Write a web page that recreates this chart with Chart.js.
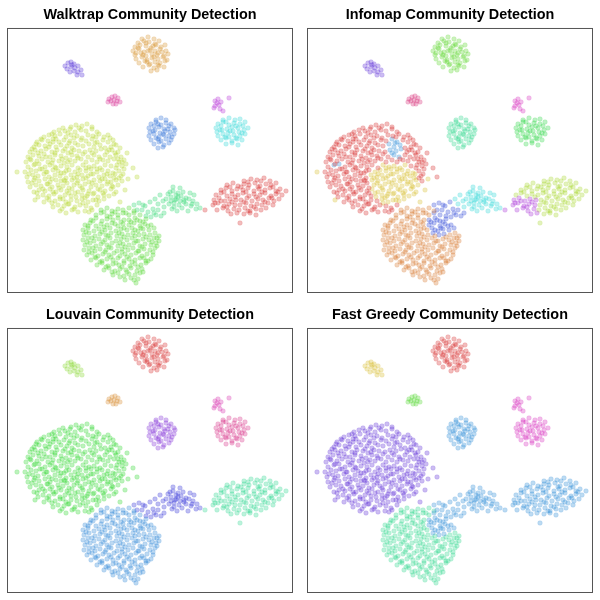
<!DOCTYPE html>
<html>
<head>
<meta charset="utf-8">
<script src="https://cdn.jsdelivr.net/npm/chart.js@4.4.1/dist/chart.umd.min.js"></script>
<style>
html,body{margin:0;padding:0;background:#fff;}
#wrap{position:relative;width:600px;height:600px;}
.cell{position:absolute;width:300px;height:300px;}
canvas{display:block;}
</style>
</head>
<body>
<div id="wrap">
  <div class="cell" style="left:0;top:0"><canvas id="c0" width="300" height="300"></canvas></div>
  <div class="cell" style="left:300px;top:0"><canvas id="c1" width="300" height="300"></canvas></div>
  <div class="cell" style="left:0;top:300px"><canvas id="c2" width="300" height="300"></canvas></div>
  <div class="cell" style="left:300px;top:300px"><canvas id="c3" width="300" height="300"></canvas></div>
</div>
<script>
// ---- embedding coordinates (x, y pairs), grouped by region ----
const regionA = [57,37, 60,34, 63,33, 66,35, 64,36, 59,40, 63,38, 67,39, 70,37, 62,43, 66,42, 70,43, 73,41, 74,46, 69,46];
const regionB = [134,10, 140,8, 146,10,
  130,14, 136,12, 141,13, 147,15, 151,12,
  127,18, 132,16, 138,17, 143,19, 148,16, 153,18, 157,16,
  125,22, 131,20, 136,23, 142,21, 147,22, 152,20, 158,22,
  127,26, 133,24, 138,27, 144,25, 149,26, 154,23, 160,25,
  128,30, 134,28, 139,31, 144,29, 150,30, 155,28, 159,31,
  131,34, 137,32, 142,35, 147,33, 152,34, 157,32,
  135,38, 141,36, 146,39, 151,37, 156,38,
  143,42, 149,41,
  138,14, 145,17, 130,19, 140,22, 150,24, 135,26, 146,28, 156,27, 139,33, 150,36, 128,24];
const regionC = [101,70, 104,68, 107,67, 110,69, 103,72, 106,71, 109,72, 112,73, 105,75, 108,75, 100,73];
const regionD = [207,72, 210,70, 209,74, 207,77, 211,76, 213,73, 206,79, 212,80, 215,82, 221,69];
const regionE = [148,91, 153,89, 158,91,
  143,95, 148,93, 153,96, 158,94, 163,95,
  141,99, 146,97, 151,98, 156,100, 161,97, 166,99,
  142,103, 147,101, 152,104, 157,102, 162,103, 167,101,
  141,107, 146,105, 151,108, 156,106, 161,107, 166,105,
  143,111, 148,109, 153,112, 158,110, 163,111,
  146,115, 151,113, 156,116, 161,114,
  150,119, 155,118,
  150,95, 160,100, 145,102, 155,105, 150,110, 164,108];
const regionF = [215,91, 221,89, 227,91, 232,90,
  210,95, 215,93, 221,96, 226,94, 232,95, 237,93,
  208,99, 213,97, 219,100, 224,98, 230,99, 235,97, 240,99,
  209,103, 214,101, 220,104, 225,102, 231,103, 236,101,
  210,107, 215,105, 221,108, 226,106, 232,107, 237,105,
  213,111, 218,109, 224,112, 229,110, 234,111,
  218,115, 224,114, 230,116,
  218,93, 228,97, 212,101, 222,102, 234,104, 217,108, 228,109];
const regionG1 = [63,98, 68,96, 74,97, 79,95, 84,98,
  46,103, 51,101, 57,102, 62,100, 67,103, 73,101, 78,102, 84,100, 89,103,
  36,108, 41,106, 47,107, 52,105, 58,108, 63,106, 69,107, 74,109, 80,106, 85,107, 91,105, 96,108, 100,106,
  29,113, 34,111, 40,112, 45,110, 51,113, 56,111, 62,112, 67,114, 73,111, 78,112, 95,111, 100,113, 105,111,
  26,118, 31,116, 37,117, 42,115, 48,118, 53,116, 59,117, 64,119, 70,116, 75,117, 97,119, 103,118, 108,116,
  22,123, 27,121, 33,122, 38,120, 44,123, 49,121, 55,122, 60,124, 66,121, 71,122, 77,123, 99,123, 104,121, 110,123,
  20,128, 25,126, 31,127, 36,125, 42,128, 47,126, 53,127, 58,129, 64,126, 69,127, 75,125, 80,128, 97,126, 102,128, 108,126, 113,128,
  18,133, 23,131, 29,132, 34,130, 40,133, 45,131, 51,132, 56,134, 62,131, 67,132, 73,130, 78,133, 84,131, 89,133, 95,131, 100,132, 106,130, 111,133, 116,131,
  20,138, 37,138, 42,136, 48,139, 53,137, 59,138, 64,136, 70,139, 103,137, 108,139, 114,137,
  17,143, 23,141, 28,142, 34,140, 39,143, 45,141, 50,142, 56,144, 61,141, 111,142, 116,140,
  19,148, 25,146, 30,147, 36,145, 41,148, 47,146, 52,147, 58,149, 113,147,
  20,153, 26,151, 31,152, 37,150, 42,153, 48,151, 53,152, 59,154, 114,152,
  22,158, 28,156, 33,157, 39,155, 44,158, 50,156, 55,157, 61,159,
  26,163, 31,161, 37,162, 42,160, 48,163, 53,161, 59,162,
  30,168, 35,166, 41,167, 46,165, 52,168, 57,166, 63,167,
  36,173, 41,171, 47,172, 52,170, 58,173, 63,171, 69,172,
  45,178, 50,176, 56,177, 61,175, 67,178, 72,176, 78,177, 83,179, 89,176,
  52,182, 58,184, 64,181, 70,183, 77,182, 84,181,
  119,124, 118,135, 125,139, 129,148,
  55,99, 71,99, 44,105, 60,104, 88,108, 33,110, 48,110, 66,109, 102,109, 28,115, 45,113, 61,114, 106,115,
  24,120, 41,118, 57,120, 101,121, 112,119, 30,124, 47,124, 63,123, 107,124, 22,130, 38,128, 54,130, 70,129,
  92,130, 110,130, 27,135, 44,134, 60,133, 114,133, 32,140, 47,138, 58,142, 109,136, 21,145, 38,143, 53,144,
  115,145, 27,149, 44,150, 56,151, 111,149, 24,154, 40,155, 57,152, 35,160, 51,159, 29,164, 45,163, 61,164,
  39,169, 55,170, 44,174, 60,175, 54,180, 81,183, 66,180];
const regionG2 = [75,136, 81,138, 86,137, 92,139, 97,136,
  67,143, 72,141, 78,142, 83,140, 89,143, 94,141, 100,142, 105,144,
  63,146, 69,148, 74,146, 80,147, 85,145, 91,148, 96,146, 102,147, 107,145,
  64,151, 70,152, 75,150, 81,153, 86,151, 92,152, 97,150, 103,153, 108,151,
  66,156, 72,157, 77,155, 83,158, 88,156, 94,157, 99,155, 105,158, 110,156,
  64,160, 70,163, 75,161, 81,162, 86,164, 92,161, 97,162, 103,160, 108,163,
  68,168, 74,166, 79,167, 85,165, 90,168, 96,166, 101,167, 106,165,
  74,170, 80,173, 85,171, 91,172, 96,170,
  9,143, 27,171, 120,150, 117,161, 112,173,
  78,139, 89,140, 70,145, 83,145, 99,145, 66,149, 78,149, 94,150, 106,149, 69,154, 84,154, 100,153,
  74,159, 90,160, 104,157, 67,164, 80,165, 95,164, 77,169, 88,171, 75,174];
const regionG3 = [84,110, 89,113, 81,115, 86,118, 92,116, 82,121, 88,122, 93,120, 86,126, 91,128, 26,136, 31,135, 87,114, 84,124];
const regionH1 = [93,181, 99,179, 104,182, 110,180, 115,181, 121,179, 126,182,
  88,186, 93,184, 99,187, 104,185, 110,186, 115,184, 121,186,
  83,191, 88,189, 94,192, 99,190, 105,191, 110,189, 116,191,
  77,196, 82,194, 88,197, 93,195, 99,196, 104,194, 110,197, 115,195,
  75,201, 80,199, 86,202, 91,200, 97,201, 102,199, 108,202, 113,200, 119,201,
  76,206, 81,204, 87,207, 92,205, 98,206, 103,204, 109,207, 114,205, 120,206, 142,206, 147,204, 151,207,
  75,211, 80,209, 86,212, 91,210, 97,211, 102,209, 108,212, 113,210, 119,211, 124,209, 130,212, 135,210, 141,211, 146,209, 151,212,
  77,216, 82,214, 88,217, 93,215, 99,216, 104,214, 110,217, 115,215, 121,216, 126,214, 132,217, 137,215, 143,216, 148,214,
  76,221, 81,219, 87,222, 92,220, 98,221, 103,219, 109,222, 114,220, 120,221, 125,219, 131,222, 136,220, 142,221, 147,219,
  79,226, 84,224, 90,227, 95,225, 101,226, 106,224, 112,227, 117,225, 123,226, 128,224, 134,227, 139,225, 145,226,
  83,231, 88,229, 94,232, 99,230, 105,231, 110,229, 116,232, 121,230, 127,231, 132,229, 138,232, 143,230,
  89,236, 94,234, 100,237, 105,235, 111,236, 116,234, 122,237, 127,235, 133,236, 138,234,
  96,241, 101,239, 107,242, 112,240, 118,241, 123,239, 129,242, 134,240,
  105,246, 110,244, 116,247, 121,245, 127,246, 132,244,
  117,251, 123,249, 130,250, 128,254,
  96,183, 107,183, 118,184, 85,192, 102,188, 113,193, 80,197, 96,198, 107,195, 78,203, 94,203, 111,204, 116,199,
  84,209, 100,207, 116,208, 127,207, 138,208, 149,209, 79,213, 95,213, 112,214, 128,212, 144,213,
  85,219, 101,218, 117,218, 134,218, 149,217, 81,223, 97,223, 114,223, 130,222, 145,223,
  87,228, 103,228, 119,228, 136,229, 92,233, 108,234, 124,233, 140,232, 98,238, 114,238, 130,238,
  104,243, 119,243, 135,243, 112,248, 126,251];
const regionH2 = [126,184, 132,186,
  121,191, 127,189, 132,192, 138,190,
  121,196, 126,194, 132,197, 137,195, 143,196,
  124,199, 130,202, 135,200, 141,201, 146,199,
  125,204, 131,206, 136,205,
  129,191, 135,193, 123,193, 140,197, 127,201, 133,199];
const regionI1 = [126,176, 131,174, 137,177, 142,173, 134,181, 140,183, 145,180, 148,186, 143,188, 153,187, 138,187, 129,181, 150,181, 156,184, 135,176, 146,184];
const regionI2 = [160,165, 165,162, 170,164, 175,163, 158,170, 163,168, 168,170, 173,167, 178,169,
  161,175, 166,174, 171,176, 176,173, 156,178, 164,180, 169,182, 174,179, 152,166, 147,170, 150,175,
  181,170, 185,172, 189,175, 183,177, 188,180, 192,179, 180,182, 186,166, 178,175,
  165,158, 172,159, 182,164, 155,172, 168,166, 167,171, 172,172, 163,172,
  162,163, 170,168, 176,171, 166,178, 184,175];
const regionJ1 = [206,171, 211,169, 217,172, 222,170, 228,171,
  205,176, 210,174, 216,177, 221,175, 227,176,
  209,181, 215,179, 220,182, 226,180,
  223,185, 229,184, 197,181,
  213,172, 219,178, 207,174, 224,173];
const regionJ2 = [236,152, 243,150, 249,151, 256,149, 262,152,
  219,156, 225,154, 230,157, 236,155, 241,156, 247,154, 252,157, 258,155, 263,156, 268,154,
  213,161, 218,159, 224,162, 229,160, 235,161, 240,159, 246,162, 251,160, 257,161, 262,159, 268,162, 272,160,
  208,166, 213,164, 219,167, 224,165, 230,166, 235,164, 241,167, 246,165, 252,166, 257,164, 263,167, 268,165, 274,166,
  233,171, 239,169, 244,172, 250,170, 255,171, 261,169, 266,172, 271,170,
  232,176, 238,174, 243,177, 249,175, 254,176, 260,174, 265,176,
  231,181, 237,179, 242,182, 248,180, 253,181, 258,179,
  236,185, 242,184, 248,186,
  232,194, 278,162,
  240,153, 253,152, 222,158, 233,158, 250,158, 265,158, 216,163, 238,163, 254,163, 270,163,
  227,168, 248,168, 264,169, 236,173, 257,173, 246,178, 240,182];

const regions = [regionA, regionB, regionC, regionD, regionE, regionF, regionG1, regionG2, regionG3, regionH1, regionH2, regionI1, regionI2, regionJ1, regionJ2];

// ---- community hue assigned to each region, per algorithm ----
const walktrapHue   = [252, 36, 324, 288, 216, 180,  72,  72,  72, 108, 108, 144, 144,   0,   0];
const infomapHue    = [257, 103, 334, 309, 154, 129,   0,  51, 206,  26, 231, 231, 180, 283,  77];
const louvainHue    = [ 88,   0,  33, 315, 270, 328, 120, 120, 120, 208, 208, 240, 240, 155, 155];
const fastGreedyHue = [ 50,   0, 108, 309, 206, 309, 257, 257, 257, 154, 206, 206, 206, 206, 206];

const titles = ['Walktrap Community Detection', 'Infomap Community Detection', 'Louvain Community Detection', 'Fast Greedy Community Detection'];
const hueSets = [walktrapHue, infomapHue, louvainHue, fastGreedyHue];

function hsv(h, s, v, a) {
  const c = v * s, hp = h / 60, x = c * (1 - Math.abs(hp % 2 - 1));
  let r = 0, g = 0, b = 0;
  if (hp < 1) { r = c; g = x; } else if (hp < 2) { r = x; g = c; } else if (hp < 3) { g = c; b = x; }
  else if (hp < 4) { g = x; b = c; } else if (hp < 5) { r = x; b = c; } else { r = c; b = x; }
  const m = v - c;
  return 'rgba(' + Math.round((r + m) * 255) + ',' + Math.round((g + m) * 255) + ',' + Math.round((b + m) * 255) + ',' + a + ')';
}
function toPoints(flat) {
  const out = [];
  for (let i = 0; i < flat.length; i += 2) out.push({x: flat[i], y: flat[i + 1]});
  return out;
}

const frame = {
  id: 'frame',
  afterDatasetsDraw(chart) {
    const a = chart.chartArea, ctx = chart.ctx;
    ctx.save();
    ctx.strokeStyle = '#555555';
    ctx.lineWidth = 1;
    ctx.strokeRect(a.left - 0.5, a.top - 0.5, a.right - a.left + 1, a.bottom - a.top + 1);
    ctx.restore();
  }
};

hueSets.forEach((hues, k) => {
  const groups = new Map();
  hues.forEach((h, i) => {
    if (!groups.has(h)) groups.set(h, []);
    groups.get(h).push(...toPoints(regions[i]));
  });
  const datasets = [];
  groups.forEach((pts, h) => {
    datasets.push({
      data: pts,
      backgroundColor: hsv(h, 0.75, 0.85, 0.33),
      borderColor: hsv(h, 0.75, 0.85, 0.3),
      borderWidth: 0.6,
      pointRadius: 2.3,
      pointHoverRadius: 2.3
    });
  });
  new Chart(document.getElementById('c' + k), {
    type: 'scatter',
    data: {datasets},
    plugins: [frame],
    options: {
      responsive: false,
      animation: false,
      events: [],
      layout: {padding: {left: 8, right: 8, top: 0, bottom: 8}},
      scales: {
        x: {type: 'linear', min: 0, max: 284, display: false},
        y: {type: 'linear', min: 0, max: 263, reverse: true, display: false}
      },
      plugins: {
        legend: {display: false},
        tooltip: {enabled: false},
        title: {
          display: true,
          text: titles[k],
          color: '#000',
          font: {family: '"Liberation Sans", Arial, Helvetica, sans-serif', size: 14.4, weight: 'bold', lineHeight: 1.2},
          padding: {top: 6.4, bottom: 5.3}
        }
      }
    }
  });
});
</script>
</body>
</html>
